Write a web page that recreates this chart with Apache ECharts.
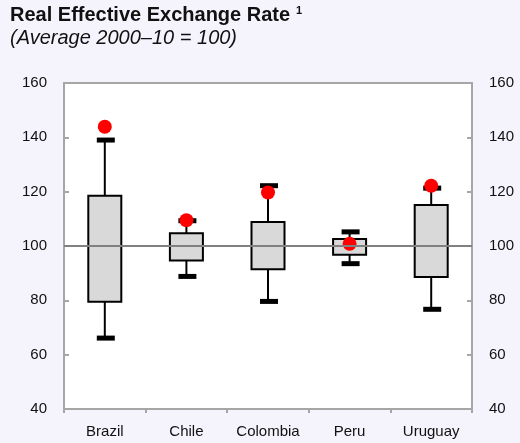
<!DOCTYPE html>
<html>
<head>
<meta charset="utf-8">
<style>
  html, body { margin: 0; padding: 0; background: #f5f3fc; }
  #chart { width: 520px; height: 443px; }
</style>
<script src="https://cdn.jsdelivr.net/npm/echarts@6/dist/echarts.min.js"></script>
</head>
<body>
<div id="chart"></div>
<script>
// Real effective exchange rate ranges, index (average 2000–10 = 100)
const countries = ['Brazil', 'Chile', 'Colombia', 'Peru', 'Uruguay'];
const maxValues = [139, 109.3, 122.2, 105.2, 121.3];
const upperQuartile = [118.5, 104.7, 108.8, 102.6, 115.1];
const lowerQuartile = [79.5, 94.7, 91.4, 96.8, 88.6];
const minValues = [66.1, 88.8, 79.6, 93.5, 76.7];
const latest = [143.9, 109.5, 119.7, 100.8, 122.2];
const yTicks = [40, 60, 80, 100, 120, 140, 160];

const FONT = '"Liberation Sans", Arial, sans-serif';

const boxData = countries.map((c, i) => [i, maxValues[i], upperQuartile[i], lowerQuartile[i], minValues[i]]);

function renderBox(params, api) {
  const i = api.value(0);
  const x = api.coord([i, 0])[0];
  const yMax = api.coord([i, api.value(1)])[1];
  const yQ3 = api.coord([i, api.value(2)])[1];
  const yQ1 = api.coord([i, api.value(3)])[1];
  const yMin = api.coord([i, api.value(4)])[1];
  const boxW = 33, capW = 18, capH = 5;
  const lineStyle = { stroke: '#000', lineWidth: 2 };
  return {
    type: 'group',
    children: [
      { type: 'line', shape: { x1: x, y1: yMax, x2: x, y2: yQ3 }, style: lineStyle },
      { type: 'line', shape: { x1: x, y1: yQ1, x2: x, y2: yMin }, style: lineStyle },
      { type: 'rect', shape: { x: x - boxW / 2, y: yQ3, width: boxW, height: yQ1 - yQ3 },
        style: { fill: '#d9d9d9', stroke: '#000', lineWidth: 2 } },
      { type: 'rect', shape: { x: x - capW / 2 + 1, y: yMax - capH / 2, width: capW, height: capH },
        style: { fill: '#000' } },
      { type: 'rect', shape: { x: x - capW / 2 + 1, y: yMin - capH / 2, width: capW, height: capH },
        style: { fill: '#000' } }
    ]
  };
}

const yAxisBase = {
  type: 'value',
  min: yTicks[0],
  max: yTicks[yTicks.length - 1],
  interval: 20,
  axisLine: { show: true, lineStyle: { color: '#a6a6a6', width: 2 } },
  axisTick: { show: true, inside: true, length: 5, lineStyle: { color: '#a6a6a6', width: 2 } },
  axisLabel: { color: '#111', fontSize: 15, fontFamily: FONT, margin: 17 },
  splitLine: { show: false }
};

const chart = echarts.init(document.getElementById('chart'));
chart.setOption({
  backgroundColor: '#f5f3fc',
  animation: false,
  graphic: [
    {
      type: 'text', x: 10, y: 5,
      style: { text: 'Real Effective Exchange Rate', font: 'bold 20px ' + FONT, fill: '#111' }
    },
    {
      type: 'text', x: 296, y: 5,
      style: { text: '1', font: 'bold 11px ' + FONT, fill: '#111' }
    },
    {
      type: 'text', x: 10, y: 28,
      style: { text: '(Average 2000–10 = 100)', font: 'italic 20px ' + FONT, fill: '#111' }
    }
  ],
  grid: {
    left: 64, right: 48, top: 83, bottom: 34,
    show: true, backgroundColor: '#fff', borderColor: '#a6a6a6', borderWidth: 2
  },
  xAxis: {
    type: 'category',
    data: countries,
    boundaryGap: true,
    axisLine: { lineStyle: { color: '#a6a6a6', width: 2 } },
    axisTick: { show: true, length: 4, lineStyle: { color: '#a6a6a6', width: 2 } },
    axisLabel: { color: '#111', fontSize: 15, fontFamily: FONT, margin: 15, interval: 0 }
  },
  yAxis: [
    Object.assign({}, yAxisBase, { position: 'left' }),
    Object.assign({}, yAxisBase, { position: 'right' })
  ],
  series: [
    {
      type: 'line',
      data: [],
      z: 1,
      markLine: {
        silent: true,
        symbol: 'none',
        label: { show: false },
        lineStyle: { color: '#808080', width: 2, type: 'solid' },
        data: [{ yAxis: 100 }]
      }
    },
    {
      type: 'custom',
      z: 2,
      renderItem: renderBox,
      encode: { x: 0, y: [1, 2, 3, 4] },
      data: boxData
    },
    {
      type: 'scatter',
      z: 3,
      symbol: 'circle',
      symbolSize: 14,
      itemStyle: { color: '#ff0000', opacity: 1 },
      data: latest.map((v, i) => [i, v])
    }
  ]
});
</script>
</body>
</html>
